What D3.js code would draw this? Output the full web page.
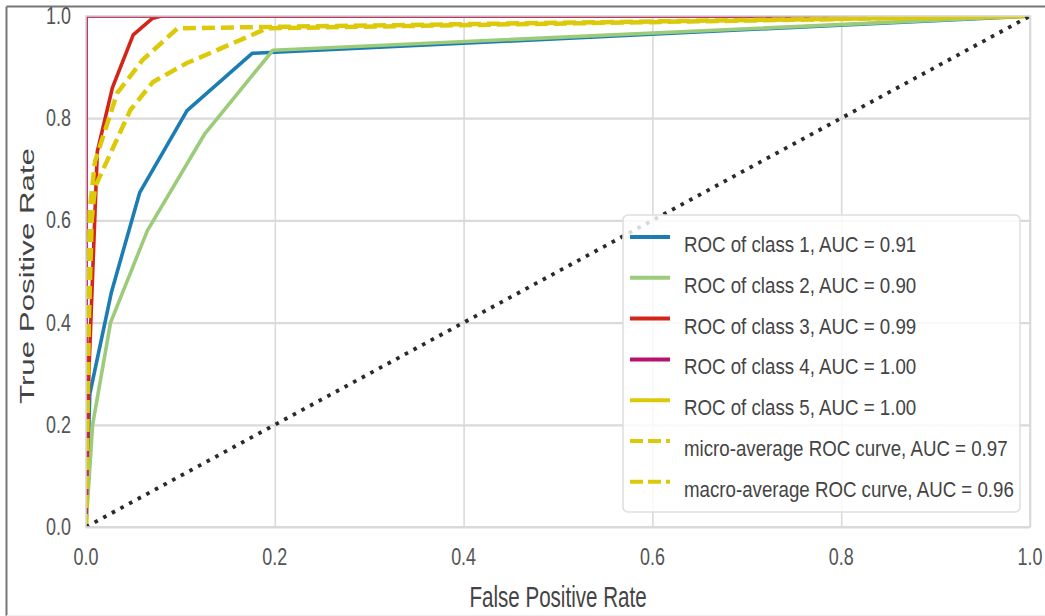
<!DOCTYPE html>
<html>
<head>
<meta charset="utf-8">
<script src="https://cdn.jsdelivr.net/npm/d3@7"></script>
<style>
  html, body { margin: 0; padding: 0; background: #fff; }
  svg { display: block; }
  text { font-family: "Liberation Sans", Arial, sans-serif; }
</style>
</head>
<body>
<svg id="chart" width="1045" height="616"></svg>
<script>
// Axis ticks (both axes share the same 0..1 range)
const ticks = [0, 0.2, 0.4, 0.6, 0.8, 1.0];

// ROC curves: [false positive rate, true positive rate]
const class1 = [[0,0],[0.004,0.26],[0.027,0.46],[0.057,0.655],[0.107,0.815],[0.176,0.927],[0.2,0.929],[1,1]];
const class2 = [[0,0],[0.001,0.03],[0.007,0.2],[0.026,0.4],[0.065,0.58],[0.126,0.77],[0.198,0.933],[1,1]];
const class3 = [[0,0],[0.003,0.3],[0.012,0.735],[0.028,0.86],[0.05,0.963],[0.07,0.995],[0.08,1],[1,1]];
const class4 = [[0,0],[0,1],[1,1]];
const class5 = [[0,0],[0,1],[1,1]];
const microAvg = [[0,0],[0.002,0.4],[0.004,0.62],[0.0095,0.715],[0.033,0.849],[0.06,0.914],[0.097,0.976],[1,1]];
const macroAvg = [[0,0],[0.003,0.4],[0.006,0.6],[0.0095,0.665],[0.047,0.816],[0.071,0.871],[0.107,0.908],[0.156,0.947],[0.192,0.976],[1,1]];
const chance = [[0,0],[1,1]];

const legendLabels = [
  "ROC of class 1, AUC = 0.91",
  "ROC of class 2, AUC = 0.90",
  "ROC of class 3, AUC = 0.99",
  "ROC of class 4, AUC = 1.00",
  "ROC of class 5, AUC = 1.00",
  "micro-average ROC curve, AUC = 0.97",
  "macro-average ROC curve, AUC = 0.96"
];

// styling
const colors = ["#1b7db3", "#9ccb7a", "#d3261b", "#b8126e", "#dcca0a", "#dcca0a", "#dcca0a"];
const dashed = [false, false, false, false, false, true, true];
const curves = [class1, class2, class3, class4, class5, microAvg, macroAvg];
// paint order: class 5 sits beneath class 4 at the left edge
const drawOrder = [0, 1, 2, 4, 3, 5, 6];

const svg = d3.select("#chart");
const W = 1045, H = 616;
const plot = { left: 86, right: 1030, top: 16, bottom: 527 };

const x = d3.scaleLinear().domain([0, 1]).range([plot.left, plot.right]);
const y = d3.scaleLinear().domain([0, 1]).range([plot.bottom, plot.top]);

// clip lines to the axes area
svg.append("defs").append("clipPath").attr("id", "plot-clip")
  .append("rect")
  .attr("x", plot.left).attr("y", plot.top)
  .attr("width", plot.right - plot.left).attr("height", plot.bottom - plot.top);

// outer frame
svg.append("rect").attr("x", 0).attr("y", 0).attr("width", W).attr("height", H).attr("fill", "#fff");
svg.append("line").attr("x1", 6.5).attr("x2", 6.5).attr("y1", 6.5).attr("y2", H)
  .attr("stroke", "#777").attr("stroke-width", 2);
svg.append("line").attr("x1", 6.5).attr("x2", W).attr("y1", 6.5).attr("y2", 6.5)
  .attr("stroke", "#777").attr("stroke-width", 2);
svg.append("line").attr("x1", 6.5).attr("x2", W).attr("y1", 615.5).attr("y2", 615.5)
  .attr("stroke", "#eee").attr("stroke-width", 1);

// grid
const gx = svg.append("g").attr("transform", `translate(0,${plot.bottom})`)
  .call(d3.axisBottom(x).tickValues(ticks).tickSize(-(plot.bottom - plot.top)).tickFormat(""));
gx.select(".domain").remove();
gx.selectAll("line").attr("stroke", "#dadada").attr("stroke-width", 1.6);

const gy = svg.append("g").attr("transform", `translate(${plot.left},0)`)
  .call(d3.axisLeft(y).tickValues(ticks).tickSize(-(plot.right - plot.left)).tickFormat(""));
gy.select(".domain").remove();
gy.selectAll("line").attr("stroke", "#dadada").attr("stroke-width", 2.2);

// curves
const line = d3.line().x(d => x(d[0])).y(d => y(d[1]));
const curveG = svg.append("g").attr("clip-path", "url(#plot-clip)");
drawOrder.forEach(i => {
  curveG.append("path")
    .datum(curves[i])
    .attr("d", line)
    .attr("fill", "none")
    .attr("stroke", colors[i])
    .attr("stroke-width", dashed[i] ? 4.5 : 3.6)
    .attr("stroke-dasharray", dashed[i] ? "13,6" : null)
    .attr("stroke-linejoin", "round");
});

// chance diagonal
curveG.append("path")
  .datum(chance)
  .attr("d", line)
  .attr("fill", "none")
  .attr("stroke", "#2a2a2a")
  .attr("stroke-width", 3.8)
  .attr("stroke-dasharray", "3.6,6.2");

// plot border drawn above the curves
svg.append("rect")
  .attr("x", plot.left).attr("y", plot.top)
  .attr("width", plot.right - plot.left).attr("height", plot.bottom - plot.top)
  .attr("fill", "none").attr("stroke", "#d8d8d8").attr("stroke-width", 1.6);

// helper for horizontally condensed text
function label(g, txt, tx, ty, size, sx, anchor, fill) {
  return g.append("text")
    .attr("transform", `translate(${tx},${ty}) scale(${sx},1)`)
    .attr("font-size", size)
    .attr("text-anchor", anchor)
    .attr("fill", fill)
    .text(txt);
}

// tick labels
const fmt = d3.format(".1f");
const tickG = svg.append("g");
ticks.forEach(t => {
  label(tickG, fmt(t), x(t), 565, 23, 0.78, "middle", "#555");
  label(tickG, fmt(t), 71, y(t) + 8, 23, 0.78, "end", "#555");
});

// axis titles
label(svg, "False Positive Rate", (plot.left + plot.right) / 2, 607, 29, 0.71, "middle", "#444");
svg.append("text")
  .attr("transform", `translate(34,276) rotate(-90) scale(1.49,1)`)
  .attr("font-size", 21)
  .attr("text-anchor", "middle")
  .attr("fill", "#444")
  .text("True Positive Rate");

// legend
const leg = svg.append("g");
leg.append("rect")
  .attr("x", 623).attr("y", 215).attr("width", 397).attr("height", 297)
  .attr("rx", 5)
  .attr("fill", "#fff").attr("fill-opacity", 0.82)
  .attr("stroke", "#dedede").attr("stroke-width", 1.5);
legendLabels.forEach((txt, i) => {
  const ry = 237 + i * 40.8;
  leg.append("line")
    .attr("x1", 630).attr("x2", 670).attr("y1", ry).attr("y2", ry)
    .attr("stroke", colors[i]).attr("stroke-width", 4)
    .attr("stroke-dasharray", dashed[i] ? "13,5" : null);
  label(leg, txt, 684, ry + 15, 22, 0.85, "start", "#444");
});
</script>
</body>
</html>
